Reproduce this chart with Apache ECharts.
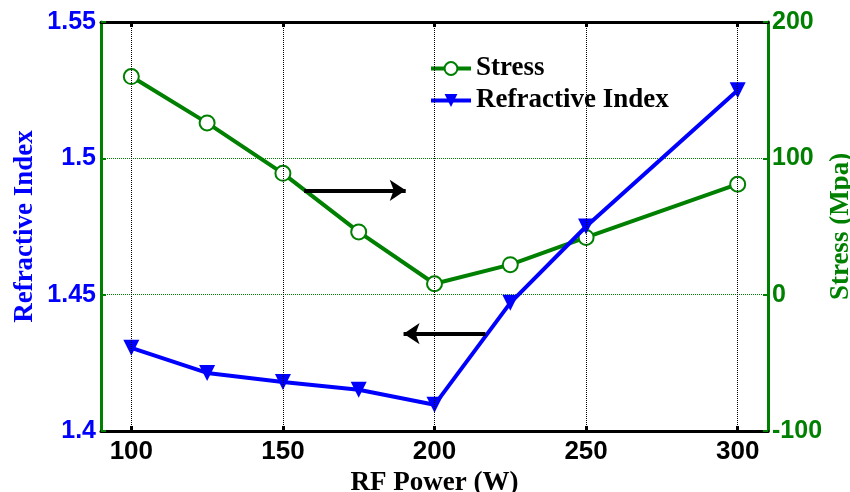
<!DOCTYPE html>
<html>
<head>
<meta charset="utf-8">
<script src="https://cdn.jsdelivr.net/npm/echarts@6/dist/echarts.min.js"></script>
<style>
  html, body { margin: 0; padding: 0; background: #fff; }
  #chart { width: 850px; height: 492px; }
</style>
</head>
<body>
<div id="chart"></div>
<script>
// RF power (W)
var power = [100, 125, 150, 175, 200, 225, 250, 300];
var stress = [160, 126, 89, 46, 8, 22, 42, 81];
var refIndex = [1.4305, 1.4213, 1.418, 1.4151, 1.4096, 1.447, 1.475, 1.525];
var xTicks = [100, 150, 200, 250, 300];
// annotation arrows, in data units [x, y]
var stressArrow = [[157, 76.5], [190.5, 76.5]];
var indexArrow = [[216.8, 1.4357], [189.8, 1.4357]];

var green = "#008000";
var blue = "#0000ff";
var numFont = "Liberation Sans";
var txtFont = "Liberation Serif";

var chart = echarts.init(document.getElementById("chart"));

var option = {
  animation: false,
  grid: { left: 101, right: 82, top: 22, bottom: 61, outerBoundsMode: "none", containLabel: false },
  legend: {
    data: ["Stress", "Refractive Index"],
    orient: "vertical",
    left: 424,
    top: 50,
    itemWidth: 40,
    itemHeight: 16,
    itemGap: 5,
    lineStyle: { width: 4 },
    textStyle: { fontFamily: txtFont, fontWeight: "bold", fontSize: 27, color: "#000" },
  },
  xAxis: [
    {
      type: "value",
      min: 90,
      max: 310,
      name: "RF Power (W)",
      nameLocation: "middle",
      nameGap: 38,
      nameTextStyle: { fontFamily: txtFont, fontWeight: "bold", fontSize: 27, color: "#000" },
      axisLine: { onZero: false, lineStyle: { color: "#000", width: 3 } },
      axisTick: { inside: true, length: 5, customValues: xTicks, lineStyle: { color: "#000", width: 3 } },
      axisLabel: { customValues: xTicks, margin: 8, fontFamily: numFont, fontWeight: "bold", fontSize: 26, color: "#000" },
      splitLine: { show: false },
    },
    {
      type: "value",
      position: "top",
      min: 90,
      max: 310,
      axisLine: { onZero: false, lineStyle: { color: "#000", width: 3 } },
      axisTick: { inside: true, length: 5, customValues: xTicks, lineStyle: { color: "#000", width: 3 } },
      axisLabel: { show: false },
      splitLine: { show: false },
    },
  ],
  yAxis: [
    {
      type: "value",
      min: 1.4,
      max: 1.55,
      interval: 0.05,
      name: "Refractive Index",
      nameLocation: "middle",
      nameGap: 62,
      nameMoveOverlap: false,
      nameTextStyle: { fontFamily: txtFont, fontWeight: "bold", fontSize: 27, color: blue },
      axisLine: { show: true, onZero: false, lineStyle: { color: green, width: 3 } },
      axisTick: { show: true, inside: true, length: 5, lineStyle: { color: green, width: 2 } },
      axisLabel: { margin: 5, fontFamily: numFont, fontWeight: "bold", fontSize: 25, color: blue },
      splitLine: { show: true, lineStyle: { color: blue, type: "dotted", width: 1 } },
    },
    {
      type: "value",
      min: -100,
      max: 200,
      interval: 100,
      name: "Stress (Mpa)",
      nameLocation: "middle",
      nameGap: 60,
      nameMoveOverlap: false,
      nameTextStyle: { fontFamily: txtFont, fontWeight: "bold", fontSize: 27, color: green },
      axisLine: { show: true, onZero: false, lineStyle: { color: green, width: 3 } },
      axisTick: { show: true, inside: true, length: 5, lineStyle: { color: green, width: 2 } },
      axisLabel: { margin: 4, fontFamily: numFont, fontWeight: "bold", fontSize: 25, color: green },
      splitLine: { show: true, lineStyle: { color: green, type: "dotted", width: 1 } },
    },
  ],
  series: [
    {
      // vertical dotted grid lines
      name: "grid",
      type: "line",
      data: [],
      z: 1,
      silent: true,
      markLine: {
        silent: true,
        symbol: "none",
        label: { show: false },
        lineStyle: { color: "#000", type: "dotted", width: 1 },
        data: xTicks.map(function (v) { return { xAxis: v }; }),
      },
    },
    {
      name: "Stress",
      type: "line",
      yAxisIndex: 1,
      data: power.map(function (p, i) { return [p, stress[i]]; }),
      symbol: "emptyCircle",
      symbolSize: 15,
      z: 3,
      lineStyle: { color: green, width: 4 },
      itemStyle: { color: green, borderColor: green, borderWidth: 3 },
      markLine: {
        silent: true,
        symbol: ["none", "arrow"],
        symbolSize: [16, 16],
        label: { show: false },
        lineStyle: { color: "#000", type: "solid", width: 4 },
        data: [[{ coord: stressArrow[0] }, { coord: stressArrow[1] }]],
      },
    },
    {
      name: "Refractive Index",
      type: "line",
      data: power.map(function (p, i) { return [p, refIndex[i]]; }),
      symbol: "triangle",
      symbolRotate: 180,
      symbolSize: 16,
      z: 4,
      lineStyle: { color: blue, width: 4 },
      itemStyle: { color: blue },
      markLine: {
        silent: true,
        symbol: ["none", "arrow"],
        symbolSize: [16, 16],
        label: { show: false },
        lineStyle: { color: "#000", type: "solid", width: 4 },
        data: [[{ coord: indexArrow[0] }, { coord: indexArrow[1] }]],
      },
    },
  ],
};

chart.setOption(option);
</script>
</body>
</html>
